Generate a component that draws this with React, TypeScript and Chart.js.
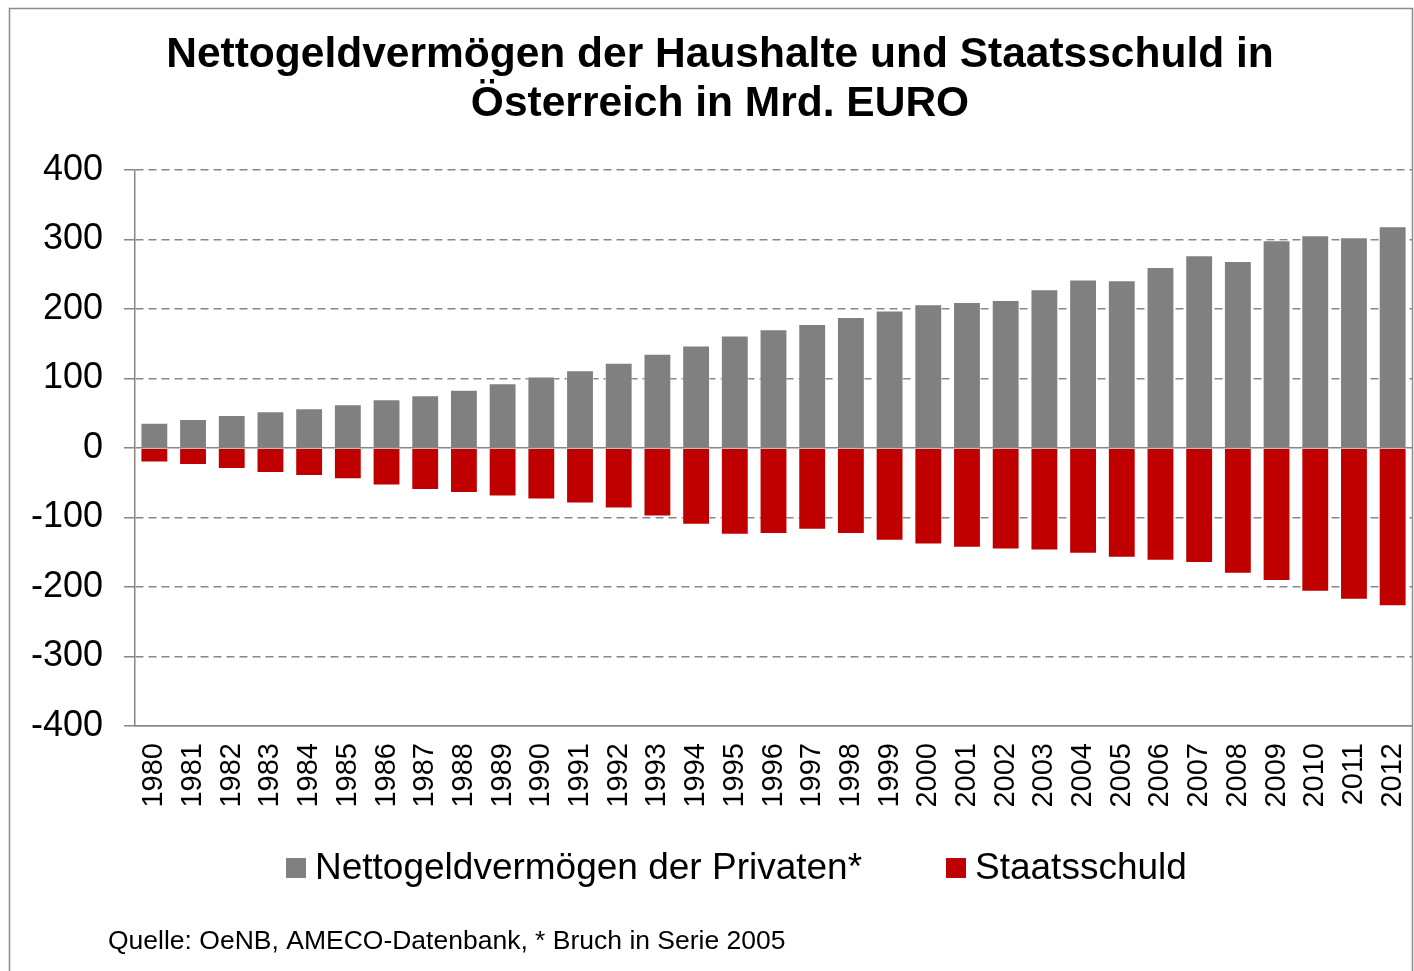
import React, { useEffect, useRef } from "react";
import { Chart, registerables } from "chart.js";

Chart.register(...registerables);

const years = [
  "1980", "1981", "1982", "1983", "1984", "1985", "1986", "1987", "1988", "1989",
  "1990", "1991", "1992", "1993", "1994", "1995", "1996", "1997", "1998", "1999",
  "2000", "2001", "2002", "2003", "2004", "2005", "2006", "2007", "2008", "2009",
  "2010", "2011", "2012",
];

const nettogeldvermoegen = [
  36.5, 41.8, 47.6, 52.9, 57.2, 63, 70.2, 76, 83.7, 93.3,
  102.9, 112, 122.6, 135.6, 147.6, 162, 171, 178.4, 188.5, 198,
  207, 210, 213, 228.4, 242.3, 241.3, 260.6, 277.4, 269.2, 299,
  306, 303.4, 319,
];

const staatsschuld = [
  -21, -24.4, -30.1, -35.9, -40.2, -45, -54, -60.3, -64.6, -69.9,
  -74.2, -79.9, -87.1, -98.6, -110.5, -124.9, -123.9, -117.7, -123.9, -133.5,
  -138.8, -143.5, -146.2, -147.4, -152, -157.9, -162.2, -165.6, -180.9, -191.4,
  -206.7, -218.2, -227.8,
];

const titleLines = [
  "Nettogeldvermögen der Haushalte und Staatsschuld in",
  "Österreich in Mrd. EURO",
];
const seriesLabels = ["Nettogeldvermögen der Privaten*", "Staatsschuld"];
const sourceText = "Quelle: OeNB, AMECO-Datenbank, * Bruch in Serie 2005";

const FONT = '"Liberation Sans", Arial, sans-serif';
const GRAY = "#808080";
const RED = "#C00000";
const GRID = "#878787";

const decorPlugin = {
  id: "decor",
  beforeDraw(chart: any) {
    const ctx = chart.ctx;
    ctx.save();
    ctx.fillStyle = "#ffffff";
    ctx.fillRect(0, 0, chart.width, chart.height);
    ctx.restore();
  },
  afterDraw(chart: any) {
    const ctx = chart.ctx;
    ctx.save();
    // outer border
    ctx.strokeStyle = "#8c8c8c";
    ctx.lineWidth = 1.5;
    ctx.strokeRect(9.5, 8.5, 1403, 980);

    // title
    ctx.fillStyle = "#000000";
    ctx.font = `bold 42.5px ${FONT}`;
    ctx.textAlign = "center";
    ctx.textBaseline = "middle";
    ctx.fillText(titleLines[0], 720, 55);
    ctx.fillText(titleLines[1], 720, 104);

    // legend
    const ds = chart.data.datasets;
    const items = [
      { x: 286, label: seriesLabels[0], color: ds[0].backgroundColor },
      { x: 946, label: seriesLabels[1], color: ds[1].backgroundColor },
    ];
    ctx.font = `37px ${FONT}`;
    ctx.textAlign = "left";
    for (const it of items) {
      ctx.fillStyle = it.color;
      ctx.fillRect(it.x, 858, 20, 20);
      ctx.fillStyle = "#000000";
      ctx.fillText(it.label, it.x + 29, 869);
    }

    // source
    ctx.font = `26.5px ${FONT}`;
    ctx.fillText(sourceText, 108, 942);
    ctx.restore();
  },
};

export default function App() {
  const ref = useRef<HTMLCanvasElement | null>(null);

  useEffect(() => {
    if (!ref.current) return;
    const chart = new Chart(ref.current, {
      type: "bar",
      data: {
        labels: years,
        datasets: [
          {
            label: seriesLabels[0],
            data: nettogeldvermoegen,
            backgroundColor: GRAY,
            borderColor: "rgba(255,255,255,0.55)",
            borderWidth: 1,
            barPercentage: 0.72,
            categoryPercentage: 1,
          },
          {
            label: seriesLabels[1],
            data: staatsschuld,
            backgroundColor: RED,
            borderColor: "rgba(255,255,255,0.45)",
            borderWidth: 1,
            barPercentage: 0.72,
            categoryPercentage: 1,
          },
        ],
      },
      options: {
        responsive: false,
        animation: false,
        layout: { padding: { left: 0, right: 2, top: 170, bottom: 145 } },
        plugins: {
          legend: { display: false },
          title: { display: false },
          tooltip: { enabled: false },
        },
        scales: {
          x: {
            stacked: true,
            offset: true,
            grid: { display: false, drawTicks: false },
            border: { display: true, color: GRID, width: 1.5 },
            ticks: {
              color: "#000000",
              font: { family: FONT, size: 29 },
              maxRotation: 90,
              minRotation: 90,
              autoSkip: false,
              padding: 17,
            },
            afterFit(scale: any) {
              scale.height = 100;
              scale.paddingLeft = 0;
              scale.paddingRight = 0;
            },
          },
          y: {
            stacked: true,
            min: -400,
            max: 400,
            grid: {
              color: GRID,
              lineWidth: 1.5,
              tickColor: GRID,
              tickLength: 11,
              tickWidth: 1.5,
            },
            border: {
              display: true,
              color: GRID,
              width: 1.5,
              dash: (c: any) =>
                c.tick && (c.tick.value === 0 || c.tick.value === -400) ? [] : [8, 5],
            },
            ticks: {
              stepSize: 100,
              color: "#000000",
              font: { family: FONT, size: 36 },
              padding: 21,
            },
            afterFit(scale: any) {
              scale.width = 135;
            },
          },
        },
      },
      plugins: [decorPlugin],
    });
    return () => chart.destroy();
  }, []);

  return (
    <div style={{ position: "fixed", left: 0, top: 0, width: 1414, height: 971, background: "#fff" }}>
      <canvas ref={ref} width={1414} height={971} style={{ width: 1414, height: 971, display: "block" }} />
    </div>
  );
}
